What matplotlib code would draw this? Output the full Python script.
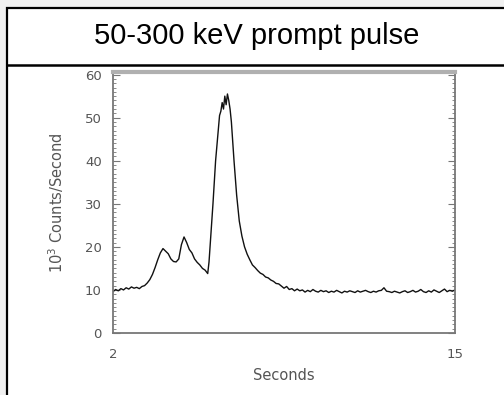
import matplotlib
matplotlib.use('Agg')
import matplotlib.pyplot as plt
import numpy as np
from matplotlib.patches import Rectangle
from matplotlib.lines import Line2D
from matplotlib.ticker import MultipleLocator

# light curve, 10^3 counts / second
t_head = [2.0, 2.1, 2.2, 2.3, 2.4, 2.5, 2.6, 2.7, 2.8, 2.9, 3.0, 3.1, 3.2, 3.3, 3.4,
          3.5, 3.6, 3.7, 3.8, 3.9, 4.0, 4.1, 4.2, 4.3, 4.4, 4.5, 4.6, 4.7, 4.8, 4.9,
          5.0, 5.1, 5.2, 5.3, 5.4, 5.5, 5.6, 5.65, 5.7, 5.8, 5.9, 6.0, 6.05, 6.1, 6.15,
          6.2, 6.25, 6.3, 6.35, 6.4, 6.45, 6.5, 6.6, 6.7, 6.8, 6.9, 7.0, 7.1, 7.2, 7.3,
          7.4, 7.5, 7.6, 7.7, 7.8, 7.9, 8.0, 8.1, 8.2, 8.3, 8.4, 8.5, 8.6, 8.7, 8.8,
          8.9, 9.0]
c_head = [9.6, 10.1, 9.8, 10.3, 10.0, 10.5, 10.2, 10.7, 10.4, 10.6, 10.3, 10.8, 11.0, 11.6, 12.4,
          13.6, 15.2, 17.0, 18.6, 19.6, 19.0, 18.4, 17.2, 16.6, 16.5, 17.2, 20.5, 22.3, 21.0, 19.4,
          18.6, 17.2, 16.4, 15.8, 15.0, 14.6, 13.8, 16.5, 21.0, 30.0, 40.0, 47.0, 50.5, 51.5, 53.5,
          52.0, 55.0, 53.0, 55.5, 54.0, 52.0, 49.0, 40.0, 32.0, 26.0, 22.5, 20.0, 18.3, 17.0, 15.8,
          15.2, 14.5, 13.9, 13.6, 13.0, 12.8, 12.3, 12.0, 11.5, 11.4, 10.9, 10.4, 10.8, 10.1, 10.3,
          9.8, 10.2]
t_tail = np.round(np.arange(9.1, 15.01, 0.1), 1)
c_tail = [9.8, 10.0, 9.5, 9.9, 9.6, 10.1, 9.7, 9.5, 9.9, 9.6,
          9.8, 9.4, 9.7, 9.5, 9.9, 9.6, 9.3, 9.7, 9.5, 9.8,
          9.6, 9.4, 9.8, 9.5, 9.7, 9.9, 9.6, 9.4, 9.7, 9.5,
          9.8, 9.9, 10.5, 9.7, 9.6, 9.4, 9.7, 9.5, 9.3, 9.6,
          9.8, 9.4, 9.6, 9.9, 9.5, 9.7, 10.1, 9.6, 9.4, 9.8,
          9.5, 10.0, 9.7, 9.4, 9.8, 10.2, 9.6, 9.9, 9.7, 10.0]

t = np.concatenate([t_head, t_tail])
counts = np.concatenate([c_head, c_tail])

fig = plt.figure(figsize=(5.04, 3.95), dpi=100)
fig.patch.set_facecolor('#f0f0f0')

# white panel with black frame
fig.patches.append(Rectangle((7/504, -0.02), 1.0, 1.0 - 8/395 + 0.02, transform=fig.transFigure,
                             facecolor='white', edgecolor='black', linewidth=1.6, zorder=-5))
fig.lines.append(Line2D([7/504, 1.0], [1 - 65/395, 1 - 65/395], transform=fig.transFigure,
                        color='black', linewidth=1.8, zorder=-4))
fig.text(0.51, 1 - 36/395, '50-300 keV prompt pulse', ha='center', va='center',
         fontsize=21, family='Liberation Sans')

ax = fig.add_axes([113/504, 1 - 333/395, (455 - 113)/504, (333 - 72)/395])
ax.set_zorder(2)
ax.patch.set_alpha(0)
ax.plot(t, counts, color='#111111', linewidth=1.0)
ax.set_xlim(2, 15)
ax.set_ylim(0, 60.6)

grey = '#777777'
for s in ['left', 'bottom', 'right']:
    ax.spines[s].set_color(grey)
    ax.spines[s].set_linewidth(1.3)
ax.spines['top'].set_color('#b0b0b0')
ax.spines['top'].set_linewidth(3)

ax.set_xticks([2, 15])
ax.set_xticklabels(['2', '15'])
ax.tick_params(axis='x', length=0, pad=11, labelsize=9.5, labelcolor='#555555')
ax.yaxis.set_major_locator(MultipleLocator(10))
ax.yaxis.set_minor_locator(MultipleLocator(1))
ax.tick_params(axis='y', which='both', direction='in', right=True, color=grey,
               labelsize=9.5, labelcolor='#555555', pad=8)
ax.tick_params(axis='y', which='major', length=5)
ax.tick_params(axis='y', which='minor', length=2)

ax.set_xlabel('Seconds', fontsize=10.5, color='#555555', labelpad=5)
ax.set_ylabel('10$^3$ Counts/Second', fontsize=10.5, color='#555555', labelpad=14)

plt.savefig('out.png', dpi=100, facecolor=fig.get_facecolor())
